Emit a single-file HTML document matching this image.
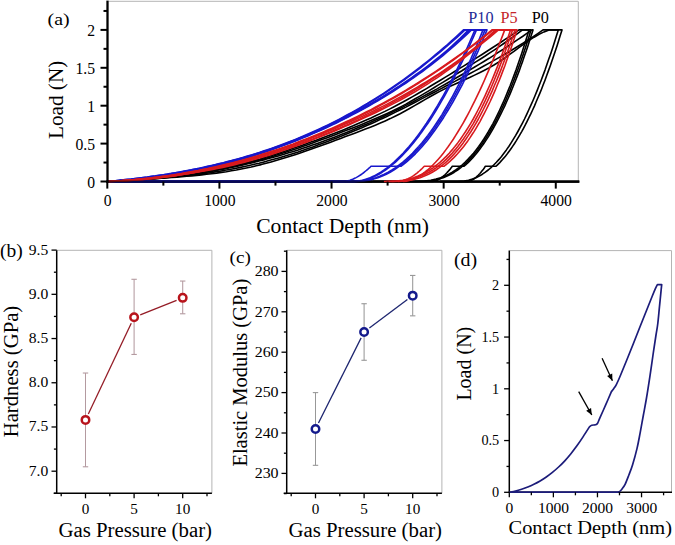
<!DOCTYPE html>
<html><head><meta charset="utf-8"><style>
html,body{margin:0;padding:0;background:#fff;}
svg{display:block;font-family:"Liberation Serif",serif;font-kerning:none;}
</style></head><body>
<svg width="675" height="545" viewBox="0 0 675 545">
<rect width="675" height="545" fill="#fff"/>
<line x1="108.50" y1="1.30" x2="578.30" y2="1.30" stroke="#b4b4b4" stroke-width="1.00"/>
<line x1="578.30" y1="1.30" x2="578.30" y2="181.50" stroke="#b4b4b4" stroke-width="1.00"/>
<line x1="106.40" y1="181.60" x2="579.30" y2="181.60" stroke="#000" stroke-width="2.30"/>
<path d="M107.3 181.5 L111.9 181.2 L116.6 180.9 L121.2 180.6 L125.8 180.3 L130.4 179.9 L135.1 179.6 L139.7 179.2 L144.3 178.8 L148.9 178.4 L153.6 178.0 L158.2 177.6 L162.8 177.1 L167.4 176.6 L172.1 176.1 L176.7 175.5 L181.3 175.0 L185.9 174.4 L190.6 173.7 L195.2 173.0 L199.8 172.3 L204.4 171.6 L209.1 170.8 L213.7 169.9 L218.3 169.1 L222.9 168.1 L227.6 167.2 L232.2 166.2 L236.8 165.1 L241.4 164.0 L246.1 162.8 L250.7 161.6 L255.3 160.3 L260.0 159.0 L264.6 157.6 L269.2 156.2 L273.8 154.8 L278.5 153.3 L283.1 151.7 L287.7 150.2 L292.3 148.6 L297.0 147.0 L301.6 145.4 L306.2 143.8 L310.8 142.1 L315.5 140.5 L320.1 138.8 L324.7 137.1 L329.3 135.3 L334.0 133.5 L338.6 131.7 L343.2 129.9 L347.8 128.0 L352.5 126.1 L357.1 124.1 L361.7 122.1 L366.3 120.1 L371.0 118.0 L375.6 115.8 L380.2 113.6 L384.9 111.4 L389.5 109.1 L394.1 106.7 L398.7 104.3 L403.4 101.8 L408.0 99.2 L412.6 96.6 L417.2 94.0 L421.9 91.3 L426.5 88.6 L431.1 85.8 L435.7 83.0 L440.4 80.2 L445.0 77.4 L449.6 74.6 L454.2 71.8 L458.9 68.9 L463.5 66.1 L468.1 63.2 L472.7 60.3 L477.4 57.4 L482.0 54.5 L486.6 51.5 L491.2 48.5 L495.9 45.5 L500.5 42.5 L505.1 39.4 L509.7 36.3 L514.4 33.1 L519.0 29.9 L529.0 29.9 L529.0 29.9 L527.2 35.9 L525.4 41.8 L523.5 47.7 L521.7 53.4 L519.8 59.1 L517.9 64.6 L516.0 70.1 L514.0 75.4 L512.0 80.7 L510.1 85.8 L508.0 90.9 L506.0 95.8 L503.9 100.7 L501.8 105.4 L499.7 110.0 L497.5 114.6 L495.3 119.0 L493.1 123.3 L490.8 127.4 L488.5 131.5 L486.1 135.4 L483.7 139.2 L481.2 142.9 L478.7 146.5 L476.1 149.9 L473.5 153.2 L470.7 156.4 L467.9 159.4 L465.0 162.3 L462.0 165.0 L458.9 167.6 L455.7 170.0 L452.3 172.2 L448.7 174.2 L444.8 176.1 L440.7 177.7 L436.1 179.1 L430.9 180.2 L424.5 181.1 L412.6 181.5 L107.3 181.5" fill="none" stroke="#000000" stroke-width="1.6" stroke-linejoin="round"/>
<path d="M107.3 181.5 L112.0 181.3 L116.6 181.0 L121.3 180.8 L126.0 180.5 L130.6 180.2 L135.3 179.9 L140.0 179.5 L144.6 179.1 L149.3 178.8 L154.0 178.3 L158.6 177.9 L163.3 177.4 L167.9 177.0 L172.6 176.4 L177.3 175.9 L181.9 175.3 L186.6 174.7 L191.3 174.0 L195.9 173.4 L200.6 172.7 L205.3 171.9 L209.9 171.1 L214.6 170.3 L219.3 169.4 L223.9 168.5 L228.6 167.5 L233.3 166.5 L237.9 165.5 L242.6 164.4 L247.3 163.3 L251.9 162.1 L256.6 160.9 L261.3 159.6 L265.9 158.3 L270.6 156.9 L275.2 155.5 L279.9 154.1 L284.6 152.6 L289.2 151.1 L293.9 149.5 L298.6 147.9 L303.2 146.3 L307.9 144.7 L312.6 143.0 L317.2 141.3 L321.9 139.6 L326.6 137.9 L331.2 136.2 L335.9 134.4 L340.6 132.6 L345.2 130.8 L349.9 129.0 L354.6 127.2 L359.2 125.4 L363.9 123.5 L368.5 121.6 L373.2 119.6 L377.9 117.6 L382.5 115.6 L387.2 113.5 L391.9 111.3 L396.5 109.0 L401.2 106.6 L405.9 104.1 L410.5 101.5 L415.2 98.8 L419.9 96.1 L424.5 93.4 L429.2 90.6 L433.9 87.7 L438.5 84.9 L443.2 82.1 L447.9 79.2 L452.5 76.4 L457.2 73.5 L461.9 70.7 L466.5 67.8 L471.2 64.9 L475.8 61.9 L480.5 59.0 L485.2 56.0 L489.8 52.9 L494.5 49.8 L499.2 46.7 L503.8 43.5 L508.5 40.2 L513.2 36.8 L517.8 33.4 L522.5 29.9 L531.0 29.9 L531.0 29.9 L529.2 35.9 L527.3 41.8 L525.4 47.7 L523.5 53.4 L521.6 59.1 L519.7 64.6 L517.7 70.1 L515.7 75.4 L513.7 80.7 L511.7 85.8 L509.7 90.9 L507.6 95.8 L505.5 100.7 L503.4 105.4 L501.2 110.0 L499.0 114.6 L496.8 119.0 L494.6 123.3 L492.3 127.4 L490.0 131.5 L487.6 135.4 L485.2 139.2 L482.7 142.9 L480.2 146.5 L477.7 149.9 L475.0 153.2 L472.4 156.4 L469.6 159.4 L466.7 162.3 L463.8 165.0 L460.8 167.6 L457.6 170.0 L454.3 172.2 L450.8 174.2 L447.1 176.1 L443.2 177.7 L438.8 179.1 L433.9 180.2 L428.1 181.1 L417.7 181.5 L107.3 181.5" fill="none" stroke="#000000" stroke-width="1.6" stroke-linejoin="round"/>
<path d="M107.3 181.5 L112.1 181.4 L116.8 181.2 L121.6 181.0 L126.4 180.8 L131.2 180.5 L135.9 180.2 L140.7 179.9 L145.5 179.5 L150.2 179.2 L155.0 178.7 L159.8 178.3 L164.6 177.8 L169.3 177.3 L174.1 176.7 L178.9 176.2 L183.7 175.6 L188.4 174.9 L193.2 174.2 L198.0 173.5 L202.7 172.7 L207.5 172.0 L212.3 171.1 L217.1 170.3 L221.8 169.4 L226.6 168.4 L231.4 167.5 L236.1 166.5 L240.9 165.4 L245.7 164.3 L250.5 163.2 L255.2 162.0 L260.0 160.8 L264.8 159.6 L269.5 158.3 L274.3 157.0 L279.1 155.7 L283.9 154.3 L288.6 152.8 L293.4 151.4 L298.2 149.9 L302.9 148.3 L307.7 146.7 L312.5 145.1 L317.3 143.4 L322.0 141.7 L326.8 140.0 L331.6 138.2 L336.4 136.4 L341.1 134.6 L345.9 132.7 L350.7 130.8 L355.4 128.8 L360.2 126.8 L365.0 124.7 L369.8 122.7 L374.5 120.5 L379.3 118.4 L384.1 116.2 L388.8 113.9 L393.6 111.6 L398.4 109.3 L403.2 106.9 L407.9 104.4 L412.7 102.0 L417.5 99.4 L422.2 96.9 L427.0 94.3 L431.8 91.7 L436.6 89.1 L441.3 86.4 L446.1 83.7 L450.9 81.0 L455.6 78.3 L460.4 75.5 L465.2 72.7 L470.0 69.9 L474.7 67.0 L479.5 64.1 L484.3 61.2 L489.1 58.3 L493.8 55.3 L498.6 52.2 L503.4 49.2 L508.1 46.1 L512.9 42.9 L517.7 39.7 L522.5 36.5 L527.2 33.2 L532.0 29.9 L533.0 29.9 L533.0 29.9 L531.3 35.3 L529.6 40.6 L527.9 45.9 L526.2 51.1 L524.4 56.1 L522.7 61.1 L520.9 66.0 L519.2 70.9 L517.4 75.6 L515.6 80.2 L513.8 84.8 L512.0 89.2 L510.2 93.6 L508.4 97.8 L506.5 102.0 L504.7 106.1 L502.8 110.0 L500.9 113.9 L499.0 117.7 L497.1 121.3 L495.2 124.9 L493.3 128.3 L491.4 131.6 L489.5 134.8 L487.6 137.9 L485.6 140.9 L483.7 143.7 L481.8 146.4 L479.9 149.0 L478.0 151.5 L476.2 153.8 L474.3 155.9 L472.6 157.9 L470.9 159.7 L469.3 161.4 L467.8 162.9 L466.4 164.1 L465.3 165.2 L464.4 165.9 L464.0 166.3 L452.3 166.3 L452.3 166.3 L451.6 167.3 L450.8 168.2 L450.1 169.2 L449.3 170.1 L448.5 171.0 L447.7 171.9 L446.9 172.8 L446.0 173.7 L445.2 174.5 L444.3 175.3 L443.4 176.1 L442.5 176.9 L441.5 177.6 L440.5 178.3 L439.5 179.0 L438.3 179.6 L437.2 180.2 L435.8 180.7 L434.3 181.2 L432.0 181.5 L107.3 181.5" fill="none" stroke="#000000" stroke-width="1.6" stroke-linejoin="round"/>
<path d="M107.3 181.5 L112.2 181.3 L117.1 181.0 L122.0 180.7 L126.9 180.5 L131.8 180.2 L136.7 179.9 L141.6 179.6 L146.5 179.2 L151.4 178.9 L156.3 178.5 L161.2 178.1 L166.0 177.7 L170.9 177.3 L175.8 176.8 L180.7 176.3 L185.6 175.8 L190.5 175.3 L195.4 174.7 L200.3 174.1 L205.2 173.4 L210.1 172.7 L215.0 171.9 L219.9 171.2 L224.8 170.3 L229.7 169.5 L234.6 168.5 L239.5 167.6 L244.4 166.5 L249.3 165.5 L254.2 164.3 L259.1 163.2 L264.0 161.9 L268.9 160.6 L273.7 159.3 L278.6 157.9 L283.5 156.5 L288.4 155.0 L293.3 153.4 L298.2 151.9 L303.1 150.2 L308.0 148.6 L312.9 146.9 L317.8 145.1 L322.7 143.3 L327.6 141.5 L332.5 139.6 L337.4 137.7 L342.3 135.8 L347.2 133.8 L352.1 131.8 L357.0 129.7 L361.9 127.7 L366.8 125.5 L371.7 123.4 L376.6 121.2 L381.4 118.9 L386.3 116.7 L391.2 114.3 L396.1 111.9 L401.0 109.5 L405.9 107.1 L410.8 104.5 L415.7 102.0 L420.6 99.4 L425.5 96.9 L430.4 94.3 L435.3 91.7 L440.2 89.1 L445.1 86.5 L450.0 83.9 L454.9 81.4 L459.8 78.8 L464.7 76.3 L469.6 73.7 L474.5 71.1 L479.4 68.5 L484.3 65.8 L489.1 63.1 L494.0 60.4 L498.9 57.6 L503.8 54.8 L508.7 52.0 L513.6 49.0 L518.5 46.0 L523.4 43.0 L528.3 39.8 L533.2 36.6 L538.1 33.3 L543.0 29.9 L558.3 29.9 L558.3 29.9 L556.4 35.9 L554.6 41.8 L552.7 47.7 L550.8 53.4 L548.8 59.1 L546.9 64.6 L545.0 70.1 L543.0 75.4 L541.0 80.7 L539.0 85.8 L537.0 90.9 L535.0 95.8 L532.9 100.7 L530.8 105.4 L528.7 110.0 L526.6 114.6 L524.5 119.0 L522.3 123.3 L520.1 127.4 L517.9 131.5 L515.7 135.4 L513.4 139.2 L511.1 142.9 L508.8 146.5 L506.4 149.9 L503.9 153.2 L501.5 156.4 L499.0 159.4 L496.4 162.3 L493.7 165.0 L491.0 167.6 L488.2 170.0 L485.4 172.2 L482.4 174.2 L479.2 176.1 L476.0 177.7 L472.4 179.1 L468.6 180.2 L464.2 181.1 L457.6 181.5 L107.3 181.5" fill="none" stroke="#000000" stroke-width="1.6" stroke-linejoin="round"/>
<path d="M107.3 181.5 L112.3 181.1 L117.2 180.8 L122.2 180.5 L127.2 180.2 L132.1 179.9 L137.1 179.6 L142.0 179.3 L147.0 179.0 L152.0 178.7 L156.9 178.4 L161.9 178.1 L166.9 177.8 L171.8 177.5 L176.8 177.1 L181.7 176.7 L186.7 176.3 L191.7 175.9 L196.6 175.4 L201.6 174.9 L206.6 174.3 L211.5 173.7 L216.5 173.1 L221.4 172.4 L226.4 171.7 L231.4 170.8 L236.3 170.0 L241.3 169.0 L246.3 168.0 L251.2 167.0 L256.2 165.8 L261.2 164.6 L266.1 163.3 L271.1 161.9 L276.0 160.5 L281.0 159.1 L286.0 157.6 L290.9 156.0 L295.9 154.4 L300.9 152.7 L305.8 151.0 L310.8 149.3 L315.7 147.6 L320.7 145.8 L325.7 144.0 L330.6 142.2 L335.6 140.3 L340.6 138.5 L345.5 136.6 L350.5 134.8 L355.4 132.9 L360.4 131.1 L365.4 129.1 L370.3 127.2 L375.3 125.2 L380.3 123.1 L385.2 120.9 L390.2 118.6 L395.1 116.2 L400.1 113.7 L405.1 111.0 L410.0 108.3 L415.0 105.4 L420.0 102.5 L424.9 99.6 L429.9 96.8 L434.9 94.0 L439.8 91.4 L444.8 88.9 L449.7 86.5 L454.7 84.2 L459.7 81.9 L464.6 79.7 L469.6 77.5 L474.6 75.1 L479.5 72.8 L484.5 70.2 L489.4 67.6 L494.4 64.7 L499.4 61.6 L504.3 58.3 L509.3 54.7 L514.3 51.1 L519.2 47.4 L524.2 43.9 L529.1 40.4 L534.1 37.2 L539.1 34.3 L544.0 31.9 L549.0 29.9 L562.0 29.9 L562.0 29.9 L560.3 35.3 L558.7 40.6 L557.0 45.9 L555.3 51.1 L553.6 56.1 L551.9 61.1 L550.2 66.0 L548.4 70.9 L546.7 75.6 L545.0 80.2 L543.2 84.8 L541.5 89.2 L539.7 93.6 L537.9 97.8 L536.1 102.0 L534.4 106.1 L532.6 110.0 L530.8 113.9 L528.9 117.7 L527.1 121.3 L525.3 124.9 L523.5 128.3 L521.7 131.6 L519.8 134.8 L518.0 137.9 L516.2 140.9 L514.4 143.7 L512.6 146.4 L510.8 149.0 L509.0 151.5 L507.3 153.8 L505.6 155.9 L503.9 157.9 L502.3 159.7 L500.8 161.4 L499.5 162.9 L498.2 164.1 L497.2 165.2 L496.4 165.9 L496.0 166.3 L485.4 166.3 L485.4 166.3 L484.7 167.3 L484.1 168.2 L483.4 169.2 L482.7 170.1 L481.9 171.0 L481.2 171.9 L480.5 172.8 L479.7 173.7 L478.9 174.5 L478.2 175.3 L477.3 176.1 L476.5 176.9 L475.6 177.6 L474.7 178.3 L473.8 179.0 L472.8 179.6 L471.7 180.2 L470.5 180.7 L469.1 181.2 L467.0 181.5 L107.3 181.5" fill="none" stroke="#000000" stroke-width="1.6" stroke-linejoin="round"/>
<path d="M107.3 181.5 L111.3 181.1 L115.3 180.7 L119.3 180.3 L123.3 179.9 L127.3 179.4 L131.3 179.0 L135.3 178.5 L139.3 178.0 L143.3 177.5 L147.3 177.0 L151.3 176.4 L155.3 175.9 L159.3 175.3 L163.3 174.7 L167.3 174.0 L171.3 173.4 L175.3 172.7 L179.3 172.0 L183.3 171.3 L187.3 170.5 L191.3 169.8 L195.3 169.0 L199.4 168.2 L203.4 167.3 L207.4 166.4 L211.4 165.5 L215.4 164.6 L219.4 163.6 L223.4 162.7 L227.4 161.6 L231.4 160.6 L235.4 159.5 L239.4 158.4 L243.4 157.3 L247.4 156.1 L251.4 154.9 L255.4 153.7 L259.4 152.4 L263.4 151.1 L267.4 149.8 L271.4 148.4 L275.4 147.0 L279.4 145.5 L283.4 144.0 L287.4 142.5 L291.4 141.0 L295.4 139.4 L299.4 137.7 L303.4 136.0 L307.4 134.3 L311.4 132.6 L315.4 130.8 L319.4 128.9 L323.4 127.0 L327.4 125.1 L331.4 123.1 L335.4 121.1 L339.4 119.1 L343.4 117.0 L347.4 114.8 L351.4 112.6 L355.4 110.4 L359.4 108.1 L363.4 105.7 L367.4 103.4 L371.4 100.9 L375.5 98.4 L379.5 95.9 L383.5 93.3 L387.5 90.7 L391.5 88.0 L395.5 85.2 L399.5 82.4 L403.5 79.6 L407.5 76.7 L411.5 73.7 L415.5 70.7 L419.5 67.6 L423.5 64.5 L427.5 61.3 L431.5 58.0 L435.5 54.7 L439.5 51.4 L443.5 47.9 L447.5 44.5 L451.5 40.9 L455.5 37.3 L459.5 33.6 L463.5 29.9 L475.0 29.9 L475.0 29.9 L472.4 35.9 L469.8 41.8 L467.2 47.7 L464.6 53.4 L461.9 59.1 L459.3 64.6 L456.6 70.1 L454.0 75.4 L451.3 80.7 L448.6 85.8 L445.9 90.9 L443.2 95.8 L440.4 100.7 L437.7 105.4 L434.9 110.0 L432.1 114.6 L429.3 119.0 L426.5 123.3 L423.6 127.4 L420.8 131.5 L417.9 135.4 L415.0 139.2 L412.0 142.9 L409.1 146.5 L406.1 149.9 L403.1 153.2 L400.0 156.4 L396.9 159.4 L393.8 162.3 L390.6 165.0 L387.4 167.6 L384.1 170.0 L380.8 172.2 L377.3 174.2 L373.8 176.1 L370.2 177.7 L366.5 179.1 L362.5 180.2 L358.2 181.1 L352.8 181.5 L107.3 181.5" fill="none" stroke="#1818cc" stroke-width="1.6" stroke-linejoin="round"/>
<path d="M107.3 181.5 L111.3 181.1 L115.3 180.7 L119.4 180.4 L123.4 179.9 L127.4 179.5 L131.4 179.1 L135.4 178.6 L139.5 178.1 L143.5 177.6 L147.5 177.1 L151.5 176.5 L155.5 176.0 L159.5 175.4 L163.6 174.8 L167.6 174.2 L171.6 173.5 L175.6 172.9 L179.6 172.2 L183.7 171.4 L187.7 170.7 L191.7 169.9 L195.7 169.1 L199.7 168.3 L203.8 167.5 L207.8 166.6 L211.8 165.7 L215.8 164.8 L219.8 163.8 L223.9 162.8 L227.9 161.8 L231.9 160.8 L235.9 159.7 L239.9 158.6 L243.9 157.5 L248.0 156.3 L252.0 155.1 L256.0 153.8 L260.0 152.6 L264.0 151.3 L268.1 149.9 L272.1 148.5 L276.1 147.1 L280.1 145.7 L284.1 144.2 L288.2 142.6 L292.2 141.1 L296.2 139.5 L300.2 137.8 L304.2 136.2 L308.3 134.4 L312.3 132.7 L316.3 130.9 L320.3 129.0 L324.3 127.1 L328.4 125.2 L332.4 123.2 L336.4 121.2 L340.4 119.1 L344.4 117.0 L348.4 114.8 L352.5 112.6 L356.5 110.4 L360.5 108.1 L364.5 105.7 L368.5 103.3 L372.6 100.9 L376.6 98.4 L380.6 95.9 L384.6 93.3 L388.6 90.6 L392.7 87.9 L396.7 85.2 L400.7 82.4 L404.7 79.5 L408.7 76.6 L412.8 73.6 L416.8 70.6 L420.8 67.5 L424.8 64.4 L428.8 61.2 L432.8 58.0 L436.9 54.7 L440.9 51.3 L444.9 47.9 L448.9 44.4 L452.9 40.9 L457.0 37.3 L461.0 33.6 L465.0 29.9 L476.5 29.9 L476.5 29.9 L473.9 35.9 L471.3 41.8 L468.7 47.7 L466.0 53.4 L463.4 59.1 L460.7 64.6 L458.1 70.1 L455.4 75.4 L452.7 80.7 L450.0 85.8 L447.3 90.9 L444.6 95.8 L441.8 100.7 L439.1 105.4 L436.3 110.0 L433.5 114.6 L430.7 119.0 L427.9 123.3 L425.0 127.4 L422.1 131.5 L419.3 135.4 L416.3 139.2 L413.4 142.9 L410.4 146.5 L407.5 149.9 L404.4 153.2 L401.4 156.4 L398.3 159.4 L395.2 162.3 L392.0 165.0 L388.8 167.6 L385.5 170.0 L382.2 172.2 L378.8 174.2 L375.3 176.1 L371.7 177.7 L367.9 179.1 L364.0 180.2 L359.8 181.1 L354.5 181.5 L107.3 181.5" fill="none" stroke="#1818cc" stroke-width="1.6" stroke-linejoin="round"/>
<path d="M107.3 181.5 L111.4 181.3 L115.4 181.0 L119.5 180.7 L123.5 180.4 L127.6 180.0 L131.7 179.6 L135.7 179.2 L139.8 178.8 L143.8 178.3 L147.9 177.9 L151.9 177.3 L156.0 176.8 L160.1 176.2 L164.1 175.6 L168.2 175.0 L172.2 174.4 L176.3 173.7 L180.4 173.0 L184.4 172.3 L188.5 171.5 L192.5 170.7 L196.6 169.9 L200.6 169.0 L204.7 168.1 L208.8 167.2 L212.8 166.3 L216.9 165.3 L220.9 164.3 L225.0 163.3 L229.1 162.2 L233.1 161.1 L237.2 160.0 L241.2 158.8 L245.3 157.6 L249.3 156.4 L253.4 155.1 L257.5 153.8 L261.5 152.5 L265.6 151.1 L269.6 149.7 L273.7 148.3 L277.8 146.9 L281.8 145.4 L285.9 143.8 L289.9 142.3 L294.0 140.7 L298.0 139.0 L302.1 137.4 L306.2 135.7 L310.2 133.9 L314.3 132.2 L318.3 130.3 L322.4 128.5 L326.5 126.6 L330.5 124.7 L334.6 122.7 L338.6 120.7 L342.7 118.7 L346.7 116.7 L350.8 114.5 L354.9 112.4 L358.9 110.2 L363.0 108.0 L367.0 105.7 L371.1 103.4 L375.2 101.0 L379.2 98.6 L383.3 96.2 L387.3 93.7 L391.4 91.1 L395.4 88.5 L399.5 85.9 L403.6 83.1 L407.6 80.4 L411.7 77.6 L415.7 74.7 L419.8 71.8 L423.9 68.8 L427.9 65.8 L432.0 62.6 L436.0 59.4 L440.1 56.2 L444.1 52.8 L448.2 49.3 L452.3 45.7 L456.3 41.9 L460.4 38.1 L464.4 34.1 L468.5 29.9 L483.0 29.9 L483.0 29.9 L480.6 35.9 L478.2 41.8 L475.7 47.7 L473.2 53.4 L470.8 59.1 L468.3 64.6 L465.7 70.1 L463.2 75.4 L460.6 80.7 L458.0 85.8 L455.4 90.9 L452.8 95.8 L450.1 100.7 L447.4 105.4 L444.7 110.0 L442.0 114.6 L439.2 119.0 L436.4 123.3 L433.6 127.4 L430.7 131.5 L427.8 135.4 L424.8 139.2 L421.8 142.9 L418.7 146.5 L415.6 149.9 L412.5 153.2 L409.3 156.4 L406.0 159.4 L402.6 162.3 L399.2 165.0 L395.6 167.6 L392.0 170.0 L388.2 172.2 L384.3 174.2 L380.2 176.1 L375.8 177.7 L371.2 179.1 L366.1 180.2 L360.3 181.1 L351.4 181.5 L107.3 181.5" fill="none" stroke="#1818cc" stroke-width="1.6" stroke-linejoin="round"/>
<path d="M107.3 181.5 L111.4 181.3 L115.5 181.0 L119.5 180.7 L123.6 180.4 L127.7 180.1 L131.8 179.7 L135.8 179.3 L139.9 178.9 L144.0 178.5 L148.1 178.0 L152.1 177.5 L156.2 177.0 L160.3 176.4 L164.4 175.8 L168.4 175.2 L172.5 174.6 L176.6 173.9 L180.7 173.2 L184.7 172.4 L188.8 171.7 L192.9 170.9 L197.0 170.1 L201.0 169.2 L205.1 168.3 L209.2 167.4 L213.3 166.5 L217.3 165.5 L221.4 164.5 L225.5 163.5 L229.6 162.4 L233.6 161.3 L237.7 160.1 L241.8 159.0 L245.9 157.8 L249.9 156.5 L254.0 155.3 L258.1 154.0 L262.2 152.7 L266.2 151.3 L270.3 149.9 L274.4 148.5 L278.5 147.0 L282.5 145.5 L286.6 144.0 L290.7 142.4 L294.8 140.8 L298.8 139.2 L302.9 137.5 L307.0 135.8 L311.1 134.0 L315.1 132.2 L319.2 130.4 L323.3 128.6 L327.4 126.7 L331.4 124.8 L335.5 122.8 L339.6 120.8 L343.7 118.8 L347.7 116.7 L351.8 114.6 L355.9 112.4 L360.0 110.2 L364.0 108.0 L368.1 105.7 L372.2 103.4 L376.3 101.0 L380.3 98.6 L384.4 96.2 L388.5 93.6 L392.6 91.1 L396.6 88.5 L400.7 85.8 L404.8 83.1 L408.9 80.3 L412.9 77.5 L417.0 74.6 L421.1 71.6 L425.2 68.6 L429.2 65.5 L433.3 62.4 L437.4 59.2 L441.5 55.9 L445.5 52.5 L449.6 49.0 L453.7 45.4 L457.8 41.7 L461.8 37.9 L465.9 33.9 L470.0 29.9 L485.0 29.9 L485.0 29.9 L482.6 35.9 L480.1 41.8 L477.6 47.7 L475.1 53.4 L472.6 59.1 L470.1 64.6 L467.5 70.1 L465.0 75.4 L462.4 80.7 L459.8 85.8 L457.2 90.9 L454.5 95.8 L451.8 100.7 L449.1 105.4 L446.4 110.0 L443.6 114.6 L440.9 119.0 L438.0 123.3 L435.2 127.4 L432.3 131.5 L429.4 135.4 L426.4 139.2 L423.4 142.9 L420.4 146.5 L417.3 149.9 L414.1 153.2 L410.9 156.4 L407.7 159.4 L404.3 162.3 L400.9 165.0 L397.4 167.6 L393.8 170.0 L390.1 172.2 L386.3 174.2 L382.3 176.1 L378.0 177.7 L373.5 179.1 L368.6 180.2 L363.0 181.1 L354.7 181.5 L107.3 181.5" fill="none" stroke="#1818cc" stroke-width="1.6" stroke-linejoin="round"/>
<path d="M107.3 181.5 L111.4 181.3 L115.5 181.0 L119.6 180.8 L123.7 180.5 L127.8 180.2 L131.9 179.8 L135.9 179.4 L140.0 179.0 L144.1 178.6 L148.2 178.1 L152.3 177.6 L156.4 177.1 L160.5 176.5 L164.6 176.0 L168.7 175.4 L172.8 174.7 L176.9 174.0 L181.0 173.3 L185.1 172.6 L189.1 171.9 L193.2 171.1 L197.3 170.2 L201.4 169.4 L205.5 168.5 L209.6 167.6 L213.7 166.7 L217.8 165.7 L221.9 164.7 L226.0 163.6 L230.1 162.6 L234.2 161.5 L238.2 160.3 L242.3 159.1 L246.4 157.9 L250.5 156.7 L254.6 155.4 L258.7 154.1 L262.8 152.8 L266.9 151.4 L271.0 150.0 L275.1 148.6 L279.2 147.1 L283.3 145.6 L287.4 144.1 L291.4 142.5 L295.5 140.9 L299.6 139.3 L303.7 137.6 L307.8 135.9 L311.9 134.1 L316.0 132.3 L320.1 130.5 L324.2 128.7 L328.3 126.8 L332.4 124.8 L336.5 122.9 L340.6 120.9 L344.6 118.8 L348.7 116.7 L352.8 114.6 L356.9 112.5 L361.0 110.3 L365.1 108.0 L369.2 105.7 L373.3 103.4 L377.4 101.0 L381.5 98.6 L385.6 96.1 L389.7 93.6 L393.7 91.0 L397.8 88.4 L401.9 85.7 L406.0 83.0 L410.1 80.2 L414.2 77.3 L418.3 74.4 L422.4 71.5 L426.5 68.4 L430.6 65.3 L434.7 62.2 L438.8 58.9 L442.9 55.6 L446.9 52.2 L451.0 48.7 L455.1 45.2 L459.2 41.5 L463.3 37.7 L467.4 33.9 L471.5 29.9 L487.0 29.9 L487.0 29.9 L484.8 35.3 L482.6 40.6 L480.3 45.9 L478.1 51.1 L475.8 56.1 L473.6 61.1 L471.3 66.0 L469.0 70.9 L466.8 75.6 L464.5 80.2 L462.2 84.8 L459.9 89.2 L457.5 93.6 L455.2 97.8 L452.9 102.0 L450.5 106.1 L448.2 110.0 L445.8 113.9 L443.5 117.7 L441.1 121.3 L438.7 124.9 L436.3 128.3 L434.0 131.6 L431.6 134.8 L429.2 137.9 L426.9 140.9 L424.5 143.7 L422.2 146.4 L419.9 149.0 L417.6 151.5 L415.4 153.8 L413.2 155.9 L411.1 157.9 L409.1 159.7 L407.2 161.4 L405.4 162.9 L403.8 164.1 L402.5 165.2 L401.5 165.9 L401.0 166.3 L371.0 166.3 L371.0 166.3 L370.0 167.3 L368.9 168.2 L367.9 169.2 L366.8 170.1 L365.7 171.0 L364.6 171.9 L363.5 172.8 L362.4 173.7 L361.2 174.5 L360.0 175.3 L358.7 176.1 L357.4 176.9 L356.1 177.6 L354.7 178.3 L353.3 179.0 L351.8 179.6 L350.1 180.2 L348.3 180.7 L346.2 181.2 L343.0 181.5 L107.3 181.5" fill="none" stroke="#1818cc" stroke-width="1.6" stroke-linejoin="round"/>
<path d="M107.3 181.5 L111.6 181.3 L115.9 181.0 L120.3 180.7 L124.6 180.4 L128.9 180.1 L133.2 179.7 L137.6 179.3 L141.9 178.9 L146.2 178.4 L150.5 178.0 L154.8 177.4 L159.2 176.9 L163.5 176.3 L167.8 175.7 L172.1 175.0 L176.5 174.4 L180.8 173.7 L185.1 172.9 L189.4 172.1 L193.7 171.3 L198.1 170.5 L202.4 169.6 L206.7 168.7 L211.0 167.8 L215.4 166.9 L219.7 165.9 L224.0 164.8 L228.3 163.8 L232.7 162.7 L237.0 161.6 L241.3 160.4 L245.6 159.2 L249.9 158.0 L254.3 156.7 L258.6 155.4 L262.9 154.1 L267.2 152.7 L271.6 151.3 L275.9 149.9 L280.2 148.5 L284.5 147.0 L288.8 145.4 L293.2 143.9 L297.5 142.3 L301.8 140.6 L306.1 138.9 L310.5 137.2 L314.8 135.5 L319.1 133.7 L323.4 131.9 L327.7 130.1 L332.1 128.2 L336.4 126.3 L340.7 124.3 L345.0 122.3 L349.4 120.3 L353.7 118.2 L358.0 116.1 L362.3 114.0 L366.6 111.8 L371.0 109.6 L375.3 107.3 L379.6 105.0 L383.9 102.7 L388.3 100.3 L392.6 97.9 L396.9 95.4 L401.2 92.9 L405.6 90.4 L409.9 87.8 L414.2 85.2 L418.5 82.5 L422.8 79.8 L427.2 77.0 L431.5 74.2 L435.8 71.4 L440.1 68.5 L444.5 65.5 L448.8 62.5 L453.1 59.5 L457.4 56.4 L461.7 53.3 L466.1 50.1 L470.4 46.9 L474.7 43.6 L479.0 40.2 L483.4 36.8 L487.7 33.4 L492.0 29.9 L504.7 29.9 L504.7 29.9 L502.5 35.9 L500.2 41.8 L497.9 47.7 L495.7 53.4 L493.4 59.1 L491.1 64.6 L488.8 70.1 L486.5 75.4 L484.2 80.7 L481.9 85.8 L479.6 90.9 L477.2 95.8 L474.9 100.7 L472.5 105.4 L470.2 110.0 L467.8 114.6 L465.4 119.0 L463.0 123.3 L460.6 127.4 L458.1 131.5 L455.7 135.4 L453.3 139.2 L450.8 142.9 L448.3 146.5 L445.8 149.9 L443.3 153.2 L440.7 156.4 L438.1 159.4 L435.5 162.3 L432.9 165.0 L430.3 167.6 L427.6 170.0 L424.8 172.2 L422.1 174.2 L419.2 176.1 L416.3 177.7 L413.4 179.1 L410.3 180.2 L407.0 181.1 L403.0 181.5" fill="none" stroke="#d81a1e" stroke-width="1.6" stroke-linejoin="round"/>
<path d="M107.3 181.5 L111.6 181.3 L116.0 181.0 L120.3 180.8 L124.6 180.5 L129.0 180.1 L133.3 179.8 L137.6 179.4 L142.0 178.9 L146.3 178.5 L150.6 178.0 L155.0 177.5 L159.3 177.0 L163.6 176.4 L168.0 175.8 L172.3 175.2 L176.6 174.5 L181.0 173.8 L185.3 173.1 L189.6 172.4 L194.0 171.6 L198.3 170.8 L202.6 169.9 L207.0 169.0 L211.3 168.1 L215.6 167.2 L220.0 166.2 L224.3 165.2 L228.6 164.1 L233.0 163.1 L237.3 162.0 L241.6 160.8 L246.0 159.6 L250.3 158.4 L254.6 157.2 L259.0 155.9 L263.3 154.6 L267.6 153.2 L272.0 151.9 L276.3 150.4 L280.6 149.0 L285.0 147.5 L289.3 146.0 L293.6 144.4 L298.0 142.8 L302.3 141.2 L306.7 139.5 L311.0 137.8 L315.3 136.1 L319.7 134.3 L324.0 132.5 L328.3 130.6 L332.7 128.7 L337.0 126.8 L341.3 124.8 L345.7 122.8 L350.0 120.8 L354.3 118.7 L358.7 116.6 L363.0 114.4 L367.3 112.2 L371.7 110.0 L376.0 107.7 L380.3 105.4 L384.7 103.0 L389.0 100.6 L393.3 98.2 L397.7 95.7 L402.0 93.2 L406.3 90.6 L410.7 88.0 L415.0 85.3 L419.3 82.7 L423.7 79.9 L428.0 77.1 L432.3 74.3 L436.7 71.4 L441.0 68.5 L445.3 65.5 L449.7 62.5 L454.0 59.5 L458.3 56.4 L462.7 53.2 L467.0 50.0 L471.3 46.8 L475.7 43.5 L480.0 40.2 L484.3 36.8 L488.7 33.4 L493.0 29.9 L510.5 29.9 L510.5 29.9 L508.5 35.9 L506.5 41.8 L504.4 47.7 L502.4 53.4 L500.3 59.1 L498.2 64.6 L496.0 70.1 L493.9 75.4 L491.7 80.7 L489.5 85.8 L487.2 90.9 L485.0 95.8 L482.7 100.7 L480.4 105.4 L478.0 110.0 L475.6 114.6 L473.2 119.0 L470.7 123.3 L468.2 127.4 L465.6 131.5 L463.0 135.4 L460.4 139.2 L457.7 142.9 L454.9 146.5 L452.1 149.9 L449.2 153.2 L446.2 156.4 L443.1 159.4 L439.9 162.3 L436.7 165.0 L433.3 167.6 L429.7 170.0 L426.0 172.2 L422.1 174.2 L418.0 176.1 L413.5 177.7 L408.6 179.1 L403.0 180.2 L396.3 181.1 L383.9 181.5" fill="none" stroke="#d81a1e" stroke-width="1.6" stroke-linejoin="round"/>
<path d="M107.3 181.5 L111.7 181.4 L116.0 181.3 L120.4 181.1 L124.7 180.9 L129.1 180.6 L133.5 180.3 L137.8 180.0 L142.2 179.7 L146.6 179.3 L150.9 178.8 L155.3 178.3 L159.6 177.8 L164.0 177.3 L168.4 176.7 L172.7 176.1 L177.1 175.4 L181.5 174.7 L185.8 174.0 L190.2 173.2 L194.5 172.4 L198.9 171.5 L203.3 170.7 L207.6 169.8 L212.0 168.8 L216.3 167.8 L220.7 166.8 L225.1 165.8 L229.4 164.7 L233.8 163.6 L238.2 162.4 L242.5 161.2 L246.9 160.0 L251.2 158.8 L255.6 157.5 L260.0 156.2 L264.3 154.8 L268.7 153.4 L273.0 152.0 L277.4 150.6 L281.8 149.1 L286.1 147.6 L290.5 146.0 L294.9 144.5 L299.2 142.8 L303.6 141.2 L307.9 139.5 L312.3 137.8 L316.7 136.1 L321.0 134.4 L325.4 132.6 L329.8 130.8 L334.1 128.9 L338.5 127.0 L342.8 125.1 L347.2 123.2 L351.6 121.2 L355.9 119.2 L360.3 117.2 L364.6 115.2 L369.0 113.1 L373.4 111.0 L377.7 108.8 L382.1 106.6 L386.5 104.4 L390.8 102.1 L395.2 99.8 L399.5 97.4 L403.9 95.0 L408.3 92.5 L412.6 90.0 L417.0 87.4 L421.3 84.8 L425.7 82.2 L430.1 79.5 L434.4 76.7 L438.8 73.9 L443.2 71.0 L447.5 68.0 L451.9 65.0 L456.2 61.9 L460.6 58.7 L465.0 55.5 L469.3 52.1 L473.7 48.7 L478.1 45.1 L482.4 41.5 L486.8 37.8 L491.1 33.9 L495.5 29.9 L512.5 29.9 L512.5 29.9 L510.5 35.9 L508.5 41.8 L506.5 47.7 L504.5 53.4 L502.5 59.1 L500.4 64.6 L498.3 70.1 L496.2 75.4 L494.0 80.7 L491.9 85.8 L489.7 90.9 L487.4 95.8 L485.2 100.7 L482.9 105.4 L480.6 110.0 L478.2 114.6 L475.8 119.0 L473.4 123.3 L470.9 127.4 L468.4 131.5 L465.8 135.4 L463.2 139.2 L460.5 142.9 L457.8 146.5 L455.0 149.9 L452.1 153.2 L449.1 156.4 L446.1 159.4 L442.9 162.3 L439.7 165.0 L436.3 167.6 L432.8 170.0 L429.1 172.2 L425.1 174.2 L421.0 176.1 L416.5 177.7 L411.5 179.1 L405.9 180.2 L399.0 181.1 L386.2 181.5" fill="none" stroke="#d81a1e" stroke-width="1.6" stroke-linejoin="round"/>
<path d="M107.3 181.5 L111.7 181.4 L116.1 181.2 L120.4 181.0 L124.8 180.7 L129.2 180.4 L133.6 180.1 L138.0 179.8 L142.3 179.4 L146.7 179.0 L151.1 178.6 L155.5 178.1 L159.8 177.6 L164.2 177.0 L168.6 176.5 L173.0 175.9 L177.4 175.2 L181.7 174.5 L186.1 173.8 L190.5 173.1 L194.9 172.3 L199.3 171.5 L203.6 170.7 L208.0 169.8 L212.4 168.9 L216.8 168.0 L221.1 167.0 L225.5 166.0 L229.9 165.0 L234.3 163.9 L238.7 162.8 L243.0 161.6 L247.4 160.5 L251.8 159.3 L256.2 158.0 L260.6 156.8 L264.9 155.5 L269.3 154.1 L273.7 152.8 L278.1 151.4 L282.4 149.9 L286.8 148.5 L291.2 147.0 L295.6 145.4 L300.0 143.8 L304.3 142.2 L308.7 140.6 L313.1 138.9 L317.5 137.2 L321.9 135.5 L326.2 133.7 L330.6 131.9 L335.0 130.1 L339.4 128.2 L343.7 126.3 L348.1 124.4 L352.5 122.4 L356.9 120.4 L361.3 118.4 L365.6 116.3 L370.0 114.2 L374.4 112.0 L378.8 109.8 L383.2 107.6 L387.5 105.3 L391.9 103.0 L396.3 100.6 L400.7 98.2 L405.0 95.7 L409.4 93.2 L413.8 90.6 L418.2 88.0 L422.6 85.3 L426.9 82.5 L431.3 79.7 L435.7 76.9 L440.1 74.0 L444.5 71.0 L448.8 67.9 L453.2 64.8 L457.6 61.7 L462.0 58.4 L466.3 55.1 L470.7 51.7 L475.1 48.3 L479.5 44.8 L483.9 41.2 L488.2 37.5 L492.6 33.7 L497.0 29.9 L515.0 29.9 L515.0 29.9 L513.0 35.9 L511.0 41.8 L509.0 47.7 L507.0 53.4 L504.9 59.1 L502.9 64.6 L500.8 70.1 L498.7 75.4 L496.5 80.7 L494.3 85.8 L492.2 90.9 L489.9 95.8 L487.7 100.7 L485.4 105.4 L483.1 110.0 L480.7 114.6 L478.4 119.0 L475.9 123.3 L473.5 127.4 L471.0 131.5 L468.4 135.4 L465.8 139.2 L463.2 142.9 L460.5 146.5 L457.7 149.9 L454.8 153.2 L451.9 156.4 L448.9 159.4 L445.8 162.3 L442.6 165.0 L439.3 167.6 L435.9 170.0 L432.3 172.2 L428.5 174.2 L424.4 176.1 L420.1 177.7 L415.3 179.1 L409.9 180.2 L403.3 181.1 L391.5 181.5" fill="none" stroke="#d81a1e" stroke-width="1.6" stroke-linejoin="round"/>
<path d="M107.3 181.5 L111.7 181.3 L116.1 181.0 L120.5 180.7 L124.9 180.4 L129.3 180.1 L133.7 179.8 L138.1 179.4 L142.5 179.1 L146.9 178.7 L151.3 178.2 L155.7 177.8 L160.0 177.3 L164.4 176.8 L168.8 176.3 L173.2 175.7 L177.6 175.2 L182.0 174.5 L186.4 173.9 L190.8 173.2 L195.2 172.5 L199.6 171.8 L204.0 171.0 L208.4 170.2 L212.8 169.4 L217.2 168.5 L221.6 167.6 L226.0 166.6 L230.4 165.6 L234.8 164.6 L239.2 163.5 L243.6 162.4 L248.0 161.3 L252.4 160.1 L256.7 158.8 L261.1 157.5 L265.5 156.2 L269.9 154.9 L274.3 153.5 L278.7 152.0 L283.1 150.6 L287.5 149.1 L291.9 147.5 L296.3 145.9 L300.7 144.3 L305.1 142.7 L309.5 141.0 L313.9 139.3 L318.3 137.6 L322.7 135.8 L327.1 134.0 L331.5 132.2 L335.9 130.4 L340.3 128.5 L344.7 126.6 L349.1 124.7 L353.4 122.8 L357.8 120.8 L362.2 118.8 L366.6 116.8 L371.0 114.7 L375.4 112.7 L379.8 110.5 L384.2 108.4 L388.6 106.1 L393.0 103.9 L397.4 101.6 L401.8 99.2 L406.2 96.7 L410.6 94.3 L415.0 91.7 L419.4 89.1 L423.8 86.4 L428.2 83.6 L432.6 80.7 L437.0 77.8 L441.4 74.8 L445.8 71.7 L450.1 68.5 L454.5 65.3 L458.9 62.0 L463.3 58.6 L467.7 55.1 L472.1 51.7 L476.5 48.1 L480.9 44.5 L485.3 40.9 L489.7 37.3 L494.1 33.6 L498.5 29.9 L517.0 29.9 L517.0 29.9 L515.3 35.3 L513.6 40.6 L511.8 45.9 L510.1 51.1 L508.3 56.1 L506.5 61.1 L504.8 66.0 L502.9 70.9 L501.1 75.6 L499.3 80.2 L497.4 84.8 L495.6 89.2 L493.7 93.6 L491.8 97.8 L489.9 102.0 L487.9 106.1 L486.0 110.0 L484.0 113.9 L482.0 117.7 L480.1 121.3 L478.0 124.9 L476.0 128.3 L474.0 131.6 L471.9 134.8 L469.9 137.9 L467.8 140.9 L465.7 143.7 L463.7 146.4 L461.6 149.0 L459.5 151.5 L457.5 153.8 L455.5 155.9 L453.6 157.9 L451.7 159.7 L449.9 161.4 L448.2 162.9 L446.7 164.1 L445.5 165.2 L444.5 165.9 L444.0 166.3 L424.3 166.3 L424.3 166.3 L423.3 167.3 L422.4 168.2 L421.4 169.2 L420.4 170.1 L419.4 171.0 L418.3 171.9 L417.3 172.8 L416.2 173.7 L415.1 174.5 L413.9 175.3 L412.8 176.1 L411.6 176.9 L410.3 177.6 L409.0 178.3 L407.7 179.0 L406.2 179.6 L404.7 180.2 L403.0 180.7 L401.0 181.2 L398.0 181.5" fill="none" stroke="#d81a1e" stroke-width="1.6" stroke-linejoin="round"/>
<line x1="107.50" y1="0.60" x2="107.50" y2="182.70" stroke="#000" stroke-width="2.30"/>
<line x1="106.40" y1="181.60" x2="372.00" y2="181.60" stroke="#000" stroke-width="2.30" stroke-opacity="0.6"/>
<line x1="440.00" y1="181.60" x2="579.30" y2="181.60" stroke="#000" stroke-width="2.30"/>
<line x1="100.50" y1="181.50" x2="107.50" y2="181.50" stroke="#000" stroke-width="2.00"/>
<line x1="103.50" y1="162.55" x2="107.50" y2="162.55" stroke="#000" stroke-width="2.00"/>
<line x1="100.50" y1="143.60" x2="107.50" y2="143.60" stroke="#000" stroke-width="2.00"/>
<line x1="103.50" y1="124.65" x2="107.50" y2="124.65" stroke="#000" stroke-width="2.00"/>
<line x1="100.50" y1="105.70" x2="107.50" y2="105.70" stroke="#000" stroke-width="2.00"/>
<line x1="103.50" y1="86.75" x2="107.50" y2="86.75" stroke="#000" stroke-width="2.00"/>
<line x1="100.50" y1="67.80" x2="107.50" y2="67.80" stroke="#000" stroke-width="2.00"/>
<line x1="103.50" y1="48.85" x2="107.50" y2="48.85" stroke="#000" stroke-width="2.00"/>
<line x1="100.50" y1="29.90" x2="107.50" y2="29.90" stroke="#000" stroke-width="2.00"/>
<line x1="103.50" y1="10.95" x2="107.50" y2="10.95" stroke="#000" stroke-width="2.00"/>
<line x1="107.30" y1="181.60" x2="107.30" y2="188.60" stroke="#000" stroke-width="2.00"/>
<line x1="163.36" y1="181.60" x2="163.36" y2="185.60" stroke="#000" stroke-width="2.00"/>
<line x1="219.42" y1="181.60" x2="219.42" y2="188.60" stroke="#000" stroke-width="2.00"/>
<line x1="275.48" y1="181.60" x2="275.48" y2="185.60" stroke="#000" stroke-width="2.00"/>
<line x1="331.54" y1="181.60" x2="331.54" y2="188.60" stroke="#000" stroke-width="2.00"/>
<line x1="387.60" y1="181.60" x2="387.60" y2="185.60" stroke="#000" stroke-width="2.00"/>
<line x1="443.66" y1="181.60" x2="443.66" y2="188.60" stroke="#000" stroke-width="2.00"/>
<line x1="499.72" y1="181.60" x2="499.72" y2="185.60" stroke="#000" stroke-width="2.00"/>
<line x1="555.78" y1="181.60" x2="555.78" y2="188.60" stroke="#000" stroke-width="2.00"/>
<text transform="translate(47.53 24.77) scale(1.1328 1.0000)" font-size="17.54" fill="#000">(a)</text>
<text transform="translate(95.10 187.80) scale(0.9800 1.1100)" font-size="16.00" text-anchor="end" fill="#000">0</text>
<text transform="translate(95.10 149.90) scale(0.9800 1.1100)" font-size="16.00" text-anchor="end" fill="#000">0.5</text>
<text transform="translate(95.10 112.00) scale(0.9800 1.1100)" font-size="16.00" text-anchor="end" fill="#000">1</text>
<text transform="translate(95.10 74.10) scale(0.9800 1.1100)" font-size="16.00" text-anchor="end" fill="#000">1.5</text>
<text transform="translate(95.10 36.20) scale(0.9800 1.1100)" font-size="16.00" text-anchor="end" fill="#000">2</text>
<text transform="translate(107.70 205.70) scale(0.9800 1.1100)" font-size="16.00" text-anchor="middle" fill="#000">0</text>
<text transform="translate(219.82 205.70) scale(0.9800 1.1100)" font-size="16.00" text-anchor="middle" fill="#000">1000</text>
<text transform="translate(331.94 205.70) scale(0.9800 1.1100)" font-size="16.00" text-anchor="middle" fill="#000">2000</text>
<text transform="translate(444.06 205.70) scale(0.9800 1.1100)" font-size="16.00" text-anchor="middle" fill="#000">3000</text>
<text transform="translate(556.18 205.70) scale(0.9800 1.1100)" font-size="16.00" text-anchor="middle" fill="#000">4000</text>
<text transform="translate(63.40 139.00) rotate(-90)" font-size="21.20" fill="#000">Load (N)</text>
<text transform="translate(256.20 232.90)" font-size="21.60" fill="#000">Contact Depth (nm)</text>
<text transform="translate(468.30 22.70) scale(1.0000 1.0800)" font-size="16.20" fill="#1e2a96">P10</text>
<text transform="translate(500.60 22.70) scale(1.0000 1.0800)" font-size="16.20" fill="#c4262a">P5</text>
<text transform="translate(531.80 22.70) scale(1.0000 1.0800)" font-size="16.20" fill="#000">P0</text>
<line x1="56.70" y1="250.30" x2="211.90" y2="250.30" stroke="#b4b4b4" stroke-width="1.00"/>
<line x1="211.90" y1="250.30" x2="211.90" y2="493.30" stroke="#b4b4b4" stroke-width="1.00"/>
<line x1="85.50" y1="373.03" x2="85.50" y2="466.78" stroke="#b49aa0" stroke-width="1.05"/>
<line x1="82.80" y1="373.03" x2="88.20" y2="373.03" stroke="#b49aa0" stroke-width="1.10"/>
<line x1="82.80" y1="466.78" x2="88.20" y2="466.78" stroke="#b49aa0" stroke-width="1.10"/>
<line x1="134.10" y1="279.29" x2="134.10" y2="354.46" stroke="#b49aa0" stroke-width="1.05"/>
<line x1="131.40" y1="279.29" x2="136.80" y2="279.29" stroke="#b49aa0" stroke-width="1.10"/>
<line x1="131.40" y1="354.46" x2="136.80" y2="354.46" stroke="#b49aa0" stroke-width="1.10"/>
<line x1="182.70" y1="281.05" x2="182.70" y2="313.78" stroke="#b49aa0" stroke-width="1.05"/>
<line x1="180.00" y1="281.05" x2="185.40" y2="281.05" stroke="#b49aa0" stroke-width="1.10"/>
<line x1="180.00" y1="313.78" x2="185.40" y2="313.78" stroke="#b49aa0" stroke-width="1.10"/>
<line x1="88.33" y1="413.94" x2="131.27" y2="323.28" stroke="#941c26" stroke-width="1.30"/>
<line x1="140.23" y1="314.86" x2="176.57" y2="300.31" stroke="#941c26" stroke-width="1.30"/>
<circle cx="85.50" cy="419.90" r="3.75" fill="#fff" stroke="#b8141c" stroke-width="2.5"/>
<circle cx="134.10" cy="317.31" r="3.75" fill="#fff" stroke="#b8141c" stroke-width="2.5"/>
<circle cx="182.70" cy="297.86" r="3.75" fill="#fff" stroke="#b8141c" stroke-width="2.5"/>
<line x1="56.70" y1="250.30" x2="56.70" y2="493.90" stroke="#000" stroke-width="1.50"/>
<line x1="53.70" y1="493.30" x2="211.90" y2="493.30" stroke="#000" stroke-width="1.40"/>
<line x1="53.90" y1="493.31" x2="56.70" y2="493.31" stroke="#000" stroke-width="1.30"/>
<line x1="51.50" y1="471.20" x2="56.70" y2="471.20" stroke="#000" stroke-width="1.30"/>
<line x1="53.90" y1="449.09" x2="56.70" y2="449.09" stroke="#000" stroke-width="1.30"/>
<line x1="51.50" y1="426.98" x2="56.70" y2="426.98" stroke="#000" stroke-width="1.30"/>
<line x1="53.90" y1="404.87" x2="56.70" y2="404.87" stroke="#000" stroke-width="1.30"/>
<line x1="51.50" y1="382.76" x2="56.70" y2="382.76" stroke="#000" stroke-width="1.30"/>
<line x1="53.90" y1="360.65" x2="56.70" y2="360.65" stroke="#000" stroke-width="1.30"/>
<line x1="51.50" y1="338.54" x2="56.70" y2="338.54" stroke="#000" stroke-width="1.30"/>
<line x1="53.90" y1="316.43" x2="56.70" y2="316.43" stroke="#000" stroke-width="1.30"/>
<line x1="51.50" y1="294.32" x2="56.70" y2="294.32" stroke="#000" stroke-width="1.30"/>
<line x1="53.90" y1="272.21" x2="56.70" y2="272.21" stroke="#000" stroke-width="1.30"/>
<line x1="51.50" y1="250.10" x2="56.70" y2="250.10" stroke="#000" stroke-width="1.30"/>
<line x1="61.20" y1="493.30" x2="61.20" y2="496.30" stroke="#000" stroke-width="1.30"/>
<line x1="85.50" y1="493.30" x2="85.50" y2="498.30" stroke="#000" stroke-width="1.30"/>
<line x1="109.80" y1="493.30" x2="109.80" y2="496.30" stroke="#000" stroke-width="1.30"/>
<line x1="134.10" y1="493.30" x2="134.10" y2="498.30" stroke="#000" stroke-width="1.30"/>
<line x1="158.40" y1="493.30" x2="158.40" y2="496.30" stroke="#000" stroke-width="1.30"/>
<line x1="182.70" y1="493.30" x2="182.70" y2="498.30" stroke="#000" stroke-width="1.30"/>
<line x1="207.00" y1="493.30" x2="207.00" y2="496.30" stroke="#000" stroke-width="1.30"/>
<text transform="translate(48.30 475.70) scale(1.0200 0.9800)" font-size="15.30" text-anchor="end" fill="#000">7.0</text>
<text transform="translate(48.30 431.48) scale(1.0200 0.9800)" font-size="15.30" text-anchor="end" fill="#000">7.5</text>
<text transform="translate(48.30 387.26) scale(1.0200 0.9800)" font-size="15.30" text-anchor="end" fill="#000">8.0</text>
<text transform="translate(48.30 343.04) scale(1.0200 0.9800)" font-size="15.30" text-anchor="end" fill="#000">8.5</text>
<text transform="translate(48.30 298.82) scale(1.0200 0.9800)" font-size="15.30" text-anchor="end" fill="#000">9.0</text>
<text transform="translate(48.30 254.60) scale(1.0200 0.9800)" font-size="15.30" text-anchor="end" fill="#000">9.5</text>
<text transform="translate(85.50 513.80)" font-size="15.20" text-anchor="middle" fill="#000">0</text>
<text transform="translate(134.10 513.80)" font-size="15.20" text-anchor="middle" fill="#000">5</text>
<text transform="translate(182.70 513.80)" font-size="15.20" text-anchor="middle" fill="#000">10</text>
<text transform="translate(58.40 537.20)" font-size="20.80" fill="#000">Gas Pressure (bar)</text>
<text transform="translate(17.60 437.30) rotate(-90)" font-size="20.70" fill="#000">Hardness (GPa)</text>
<text transform="translate(-0.06 257.19) scale(1.0092 1.0000)" font-size="19.30" fill="#000">(b)</text>
<line x1="286.70" y1="250.30" x2="441.90" y2="250.30" stroke="#b4b4b4" stroke-width="1.00"/>
<line x1="441.90" y1="250.30" x2="441.90" y2="493.30" stroke="#b4b4b4" stroke-width="1.00"/>
<line x1="315.50" y1="392.60" x2="315.50" y2="465.32" stroke="#989898" stroke-width="1.05"/>
<line x1="312.80" y1="392.60" x2="318.20" y2="392.60" stroke="#989898" stroke-width="1.10"/>
<line x1="312.80" y1="465.32" x2="318.20" y2="465.32" stroke="#989898" stroke-width="1.10"/>
<line x1="364.10" y1="303.72" x2="364.10" y2="360.28" stroke="#989898" stroke-width="1.05"/>
<line x1="361.40" y1="303.72" x2="366.80" y2="303.72" stroke="#989898" stroke-width="1.10"/>
<line x1="361.40" y1="360.28" x2="366.80" y2="360.28" stroke="#989898" stroke-width="1.10"/>
<line x1="412.70" y1="275.44" x2="412.70" y2="315.84" stroke="#989898" stroke-width="1.05"/>
<line x1="410.00" y1="275.44" x2="415.40" y2="275.44" stroke="#989898" stroke-width="1.10"/>
<line x1="410.00" y1="315.84" x2="415.40" y2="315.84" stroke="#989898" stroke-width="1.10"/>
<line x1="318.46" y1="423.06" x2="361.14" y2="337.90" stroke="#1e2670" stroke-width="1.30"/>
<line x1="369.38" y1="328.05" x2="407.42" y2="299.59" stroke="#1e2670" stroke-width="1.30"/>
<circle cx="315.50" cy="428.96" r="3.75" fill="#fff" stroke="#141a8c" stroke-width="2.5"/>
<circle cx="364.10" cy="332.00" r="3.75" fill="#fff" stroke="#141a8c" stroke-width="2.5"/>
<circle cx="412.70" cy="295.64" r="3.75" fill="#fff" stroke="#141a8c" stroke-width="2.5"/>
<line x1="286.70" y1="250.30" x2="286.70" y2="493.90" stroke="#000" stroke-width="1.50"/>
<line x1="283.70" y1="493.30" x2="441.90" y2="493.30" stroke="#000" stroke-width="1.40"/>
<line x1="283.90" y1="493.60" x2="286.70" y2="493.60" stroke="#000" stroke-width="1.30"/>
<line x1="281.50" y1="473.40" x2="286.70" y2="473.40" stroke="#000" stroke-width="1.30"/>
<line x1="283.90" y1="453.20" x2="286.70" y2="453.20" stroke="#000" stroke-width="1.30"/>
<line x1="281.50" y1="433.00" x2="286.70" y2="433.00" stroke="#000" stroke-width="1.30"/>
<line x1="283.90" y1="412.80" x2="286.70" y2="412.80" stroke="#000" stroke-width="1.30"/>
<line x1="281.50" y1="392.60" x2="286.70" y2="392.60" stroke="#000" stroke-width="1.30"/>
<line x1="283.90" y1="372.40" x2="286.70" y2="372.40" stroke="#000" stroke-width="1.30"/>
<line x1="281.50" y1="352.20" x2="286.70" y2="352.20" stroke="#000" stroke-width="1.30"/>
<line x1="283.90" y1="332.00" x2="286.70" y2="332.00" stroke="#000" stroke-width="1.30"/>
<line x1="281.50" y1="311.80" x2="286.70" y2="311.80" stroke="#000" stroke-width="1.30"/>
<line x1="283.90" y1="291.60" x2="286.70" y2="291.60" stroke="#000" stroke-width="1.30"/>
<line x1="281.50" y1="271.40" x2="286.70" y2="271.40" stroke="#000" stroke-width="1.30"/>
<line x1="283.90" y1="251.20" x2="286.70" y2="251.20" stroke="#000" stroke-width="1.30"/>
<line x1="291.20" y1="493.30" x2="291.20" y2="496.30" stroke="#000" stroke-width="1.30"/>
<line x1="315.50" y1="493.30" x2="315.50" y2="498.30" stroke="#000" stroke-width="1.30"/>
<line x1="339.80" y1="493.30" x2="339.80" y2="496.30" stroke="#000" stroke-width="1.30"/>
<line x1="364.10" y1="493.30" x2="364.10" y2="498.30" stroke="#000" stroke-width="1.30"/>
<line x1="388.40" y1="493.30" x2="388.40" y2="496.30" stroke="#000" stroke-width="1.30"/>
<line x1="412.70" y1="493.30" x2="412.70" y2="498.30" stroke="#000" stroke-width="1.30"/>
<line x1="437.00" y1="493.30" x2="437.00" y2="496.30" stroke="#000" stroke-width="1.30"/>
<text transform="translate(278.60 478.20) scale(1.0300 0.9800)" font-size="15.50" text-anchor="end" fill="#000">230</text>
<text transform="translate(278.60 437.80) scale(1.0300 0.9800)" font-size="15.50" text-anchor="end" fill="#000">240</text>
<text transform="translate(278.60 397.40) scale(1.0300 0.9800)" font-size="15.50" text-anchor="end" fill="#000">250</text>
<text transform="translate(278.60 357.00) scale(1.0300 0.9800)" font-size="15.50" text-anchor="end" fill="#000">260</text>
<text transform="translate(278.60 316.60) scale(1.0300 0.9800)" font-size="15.50" text-anchor="end" fill="#000">270</text>
<text transform="translate(278.60 276.20) scale(1.0300 0.9800)" font-size="15.50" text-anchor="end" fill="#000">280</text>
<text transform="translate(315.50 513.80)" font-size="15.20" text-anchor="middle" fill="#000">0</text>
<text transform="translate(364.10 513.80)" font-size="15.20" text-anchor="middle" fill="#000">5</text>
<text transform="translate(412.70 513.80)" font-size="15.20" text-anchor="middle" fill="#000">10</text>
<text transform="translate(288.40 537.20)" font-size="20.80" fill="#000">Gas Pressure (bar)</text>
<text transform="translate(247.20 466.60) rotate(-90)" font-size="20.50" fill="#000">Elastic Modulus (GPa)</text>
<text transform="translate(229.56 262.92) scale(1.0801 1.0000)" font-size="17.76" fill="#000">(c)</text>
<line x1="509.30" y1="250.60" x2="671.50" y2="250.60" stroke="#b4b4b4" stroke-width="1.00"/>
<line x1="671.50" y1="250.60" x2="671.50" y2="492.30" stroke="#b4b4b4" stroke-width="1.00"/>
<line x1="509.30" y1="250.60" x2="509.30" y2="492.90" stroke="#000" stroke-width="1.50"/>
<line x1="508.70" y1="492.30" x2="672.00" y2="492.30" stroke="#000" stroke-width="1.40"/>
<path d="M509.30 492.30 C510.33 492.08 513.45 491.52 515.50 491.00 C517.55 490.48 519.55 489.87 521.60 489.20 C523.65 488.53 525.75 487.82 527.80 487.00 C529.85 486.18 531.85 485.30 533.90 484.30 C535.95 483.30 538.03 482.22 540.10 481.00 C542.17 479.78 544.25 478.43 546.30 477.00 C548.35 475.57 550.35 474.07 552.40 472.40 C554.45 470.73 556.53 468.93 558.60 467.00 C560.67 465.07 562.75 463.02 564.80 460.80 C566.85 458.58 568.85 456.23 570.90 453.70 C572.95 451.17 575.05 448.45 577.10 445.60 C579.15 442.75 581.12 439.77 583.20 436.60 C585.28 433.43 588.53 428.27 589.60 426.60  C589.97 426.37 590.82 425.50 591.80 425.20 C592.78 424.90 594.53 425.13 595.50 424.80 C596.47 424.47 596.85 424.40 597.60 423.20 C598.35 422.00 598.60 420.77 600.00 417.60 C601.40 414.43 604.12 408.50 606.00 404.20 C607.88 399.90 610.42 393.87 611.30 391.80  C611.67 391.32 612.68 390.07 613.50 388.90 C614.32 387.73 615.12 386.87 616.20 384.80 C617.28 382.73 617.70 381.97 620.00 376.50 C622.30 371.03 626.67 360.28 630.00 352.00 C633.33 343.72 637.17 333.93 640.00 326.80 C642.83 319.67 644.97 314.30 647.00 309.20 C649.03 304.10 650.78 299.67 652.20 296.20 C653.62 292.73 654.63 290.33 655.50 288.40 C656.37 286.47 657.08 285.23 657.40 284.60 L661.7 284.6  C661.62 285.40 661.57 285.77 661.20 289.40 C660.83 293.03 660.07 300.72 659.50 306.40 C658.93 312.08 658.38 318.73 657.80 323.50 C657.22 328.27 656.80 329.75 656.00 335.00 C655.20 340.25 654.03 347.98 653.00 355.00 C651.97 362.02 650.88 369.93 649.80 377.10 C648.72 384.27 647.57 391.68 646.50 398.00 C645.43 404.32 644.47 409.15 643.40 415.00 C642.33 420.85 641.15 427.58 640.10 433.10 C639.05 438.62 638.35 442.83 637.10 448.10 C635.85 453.37 633.98 460.18 632.60 464.70 C631.22 469.22 630.05 471.93 628.80 475.20 C627.55 478.47 626.23 482.00 625.10 484.30 C623.97 486.60 622.88 487.82 622.00 489.00 C621.12 490.18 620.55 490.88 619.80 491.40 C619.05 491.92 617.88 491.98 617.50 492.10 L509.3 492.1" fill="none" stroke="#1c1c7a" stroke-width="1.7" stroke-linejoin="round"/>
<line x1="504.10" y1="492.30" x2="509.30" y2="492.30" stroke="#000" stroke-width="1.30"/>
<line x1="506.50" y1="466.43" x2="509.30" y2="466.43" stroke="#000" stroke-width="1.30"/>
<line x1="504.10" y1="440.55" x2="509.30" y2="440.55" stroke="#000" stroke-width="1.30"/>
<line x1="506.50" y1="414.68" x2="509.30" y2="414.68" stroke="#000" stroke-width="1.30"/>
<line x1="504.10" y1="388.80" x2="509.30" y2="388.80" stroke="#000" stroke-width="1.30"/>
<line x1="506.50" y1="362.93" x2="509.30" y2="362.93" stroke="#000" stroke-width="1.30"/>
<line x1="504.10" y1="337.05" x2="509.30" y2="337.05" stroke="#000" stroke-width="1.30"/>
<line x1="506.50" y1="311.18" x2="509.30" y2="311.18" stroke="#000" stroke-width="1.30"/>
<line x1="504.10" y1="285.30" x2="509.30" y2="285.30" stroke="#000" stroke-width="1.30"/>
<line x1="506.50" y1="259.43" x2="509.30" y2="259.43" stroke="#000" stroke-width="1.30"/>
<line x1="509.30" y1="492.30" x2="509.30" y2="497.30" stroke="#000" stroke-width="1.30"/>
<line x1="531.34" y1="492.30" x2="531.34" y2="495.30" stroke="#000" stroke-width="1.30"/>
<line x1="553.38" y1="492.30" x2="553.38" y2="497.30" stroke="#000" stroke-width="1.30"/>
<line x1="575.42" y1="492.30" x2="575.42" y2="495.30" stroke="#000" stroke-width="1.30"/>
<line x1="597.46" y1="492.30" x2="597.46" y2="497.30" stroke="#000" stroke-width="1.30"/>
<line x1="619.50" y1="492.30" x2="619.50" y2="495.30" stroke="#000" stroke-width="1.30"/>
<line x1="641.54" y1="492.30" x2="641.54" y2="497.30" stroke="#000" stroke-width="1.30"/>
<line x1="663.58" y1="492.30" x2="663.58" y2="495.30" stroke="#000" stroke-width="1.30"/>
<text transform="translate(499.20 497.10) scale(0.9500 1.0400)" font-size="15.00" text-anchor="end" fill="#000">0</text>
<text transform="translate(499.20 445.35) scale(0.9500 1.0400)" font-size="15.00" text-anchor="end" fill="#000">0.5</text>
<text transform="translate(499.20 393.60) scale(0.9500 1.0400)" font-size="15.00" text-anchor="end" fill="#000">1</text>
<text transform="translate(499.20 341.85) scale(0.9500 1.0400)" font-size="15.00" text-anchor="end" fill="#000">1.5</text>
<text transform="translate(499.20 290.10) scale(0.9500 1.0400)" font-size="15.00" text-anchor="end" fill="#000">2</text>
<text transform="translate(509.40 512.50)" font-size="15.50" text-anchor="middle" fill="#000">0</text>
<text transform="translate(553.48 512.50)" font-size="15.50" text-anchor="middle" fill="#000">1000</text>
<text transform="translate(597.56 512.50)" font-size="15.50" text-anchor="middle" fill="#000">2000</text>
<text transform="translate(641.64 512.50)" font-size="15.50" text-anchor="middle" fill="#000">3000</text>
<text transform="translate(453.92 266.48) scale(1.0828 1.0000)" font-size="18.42" fill="#000">(d)</text>
<text transform="translate(470.50 400.60) rotate(-90)" font-size="20.00" fill="#000">Load (N)</text>
<text transform="translate(508.50 533.50) scale(1.0650 1.0000)" font-size="19.20" fill="#000">Contact Depth (nm)</text>
<line x1="578.70" y1="391.60" x2="591.80" y2="415.00" stroke="#000" stroke-width="1.30"/>
<path d="M591.80 415.00 L586.18 410.70 L591.07 407.96 Z" fill="#000"/>
<line x1="602.10" y1="358.30" x2="612.40" y2="380.70" stroke="#000" stroke-width="1.30"/>
<path d="M612.40 380.70 L607.14 375.96 L612.23 373.62 Z" fill="#000"/>
</svg></body></html>
